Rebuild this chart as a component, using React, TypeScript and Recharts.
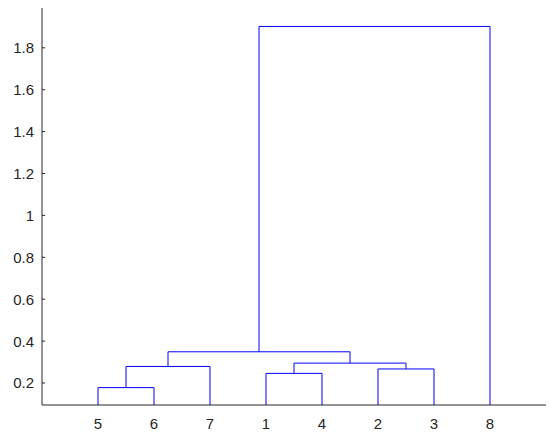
import { LineChart, Line, XAxis, YAxis } from "recharts";

// leaves in the order they sit along the x axis
const leafOrder = [5, 6, 7, 1, 4, 2, 3, 8];
// linkage rows: [node a, node b, merge height]; clusters get ids 9, 10, ... in row order
const linkage: [number, number, number][] = [
  [5, 6, 0.178],
  [1, 4, 0.246],
  [2, 3, 0.267],
  [9, 7, 0.279],
  [10, 11, 0.295],
  [12, 13, 0.349],
  [14, 8, 1.902],
];
const yTicks = [0.2, 0.4, 0.6, 0.8, 1, 1.2, 1.4, 1.6, 1.8];
const yMin = 0.095;
const yMax = 1.99;

const leafCount = leafOrder.length;
const xTicks = leafOrder.map((_, i) => i + 1);

// position of every node: leaves sit on the axis, clusters at their merge height
const nodePos: Record<number, { x: number; y: number }> = {};
leafOrder.forEach((leaf, i) => {
  nodePos[leaf] = { x: i + 1, y: yMin };
});
linkage.forEach(([a, b, h], i) => {
  nodePos[leafCount + 1 + i] = { x: (nodePos[a].x + nodePos[b].x) / 2, y: h };
});

const links = linkage.map(([a, b, h]) => [
  { x: nodePos[a].x, y: nodePos[a].y },
  { x: nodePos[a].x, y: h },
  { x: nodePos[b].x, y: h },
  { x: nodePos[b].x, y: nodePos[b].y },
]);

const FONT = "'Liberation Sans', Arial, sans-serif";
const AXIS = "#262626";

const YTick = ({ x, y, payload }: any) => (
  <g>
    <line x1={x + 8} x2={x + 11} y1={y} y2={y} stroke={AXIS} strokeWidth={1} />
    <text x={x} y={y} dy={5.4} textAnchor="end" fontSize={15} fill={AXIS} fontFamily={FONT}>
      {payload.value}
    </text>
  </g>
);

const XTick = ({ x, y, payload }: any) => (
  <text x={x} y={y} dy={15.5} textAnchor="middle" fontSize={15} fill={AXIS} fontFamily={FONT}>
    {leafOrder[payload.value - 1]}
  </text>
);

export default function App() {
  return (
    <div style={{ position: "absolute", left: 0, top: 0, width: 550, height: 437, background: "#fff" }}>
      <LineChart width={550} height={437} margin={{ top: 8, right: 4, bottom: 2, left: 0 }}>
        <XAxis
          type="number"
          dataKey="x"
          domain={[0, leafCount + 1]}
          ticks={xTicks}
          tick={<XTick />}
          tickLine={false}
          tickSize={0}
          tickMargin={8}
          height={30}
          stroke={AXIS}
          allowDecimals={false}
        />
        <YAxis
          type="number"
          domain={[yMin, yMax]}
          ticks={yTicks}
          tick={<YTick />}
          tickLine={false}
          tickSize={0}
          tickMargin={8}
          width={42}
          stroke={AXIS}
          allowDataOverflow
        />
        {links.map((pts, i) => (
          <Line
            key={i}
            data={pts}
            dataKey="y"
            type="linear"
            stroke="#0000ff"
            strokeWidth={1}
            dot={false}
            activeDot={false}
            isAnimationActive={false}
          />
        ))}
      </LineChart>
    </div>
  );
}
